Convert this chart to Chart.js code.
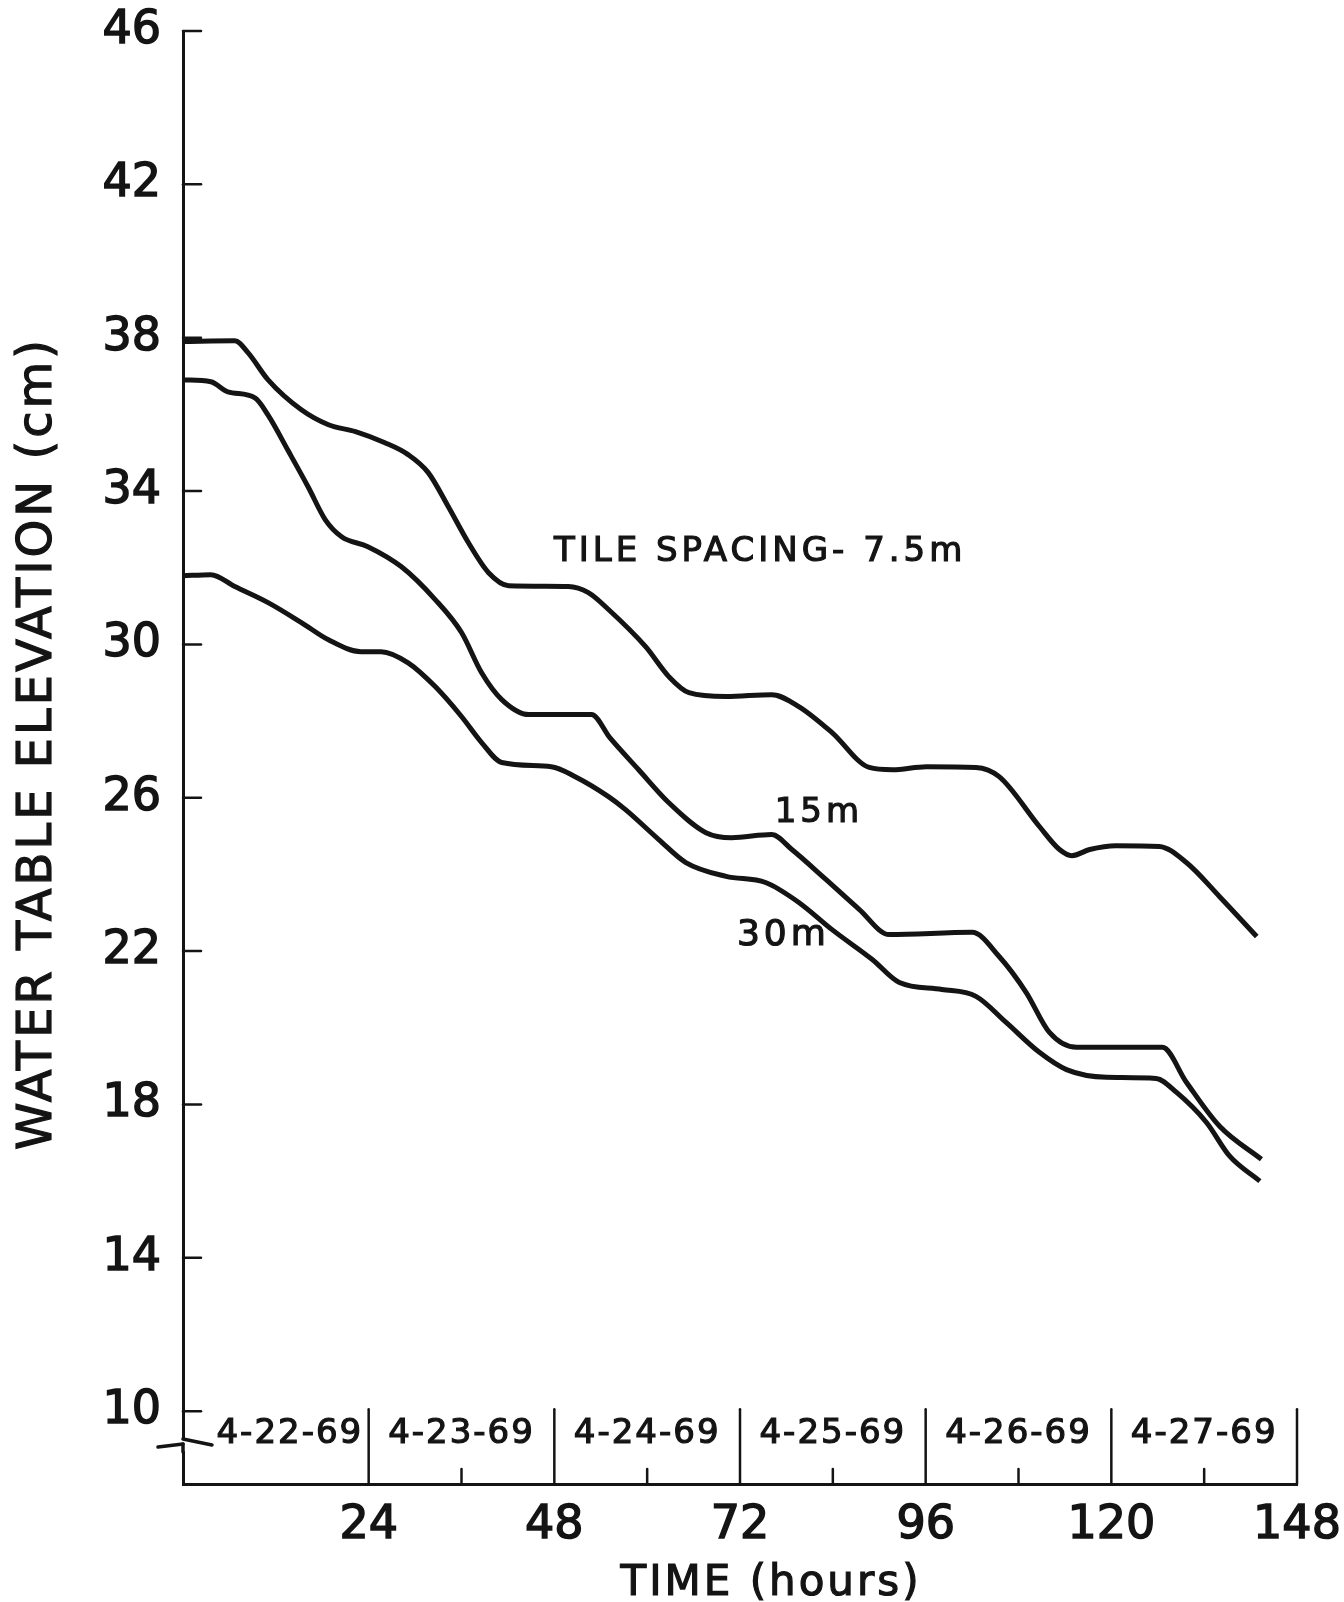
<!DOCTYPE html>
<html>
<head>
<meta charset="utf-8">
<title>Water table elevation vs time</title>
<script src="https://cdn.jsdelivr.net/npm/chart.js@4.4.1/dist/chart.umd.min.js"></script>
<style>
  html, body { margin: 0; padding: 0; background: #fff; }
  #wrap { width: 1344px; height: 1602px; position: relative; }
</style>
</head>
<body>
<div id="wrap"><canvas id="wt_chart"></canvas></div>
<script>
// hours from start of record / water table elevation (cm)
let hours75 = [0, 6.7, 8.4, 11, 15.3, 18.8, 22.3, 26.1, 29.1, 31.7, 34.3, 36.9, 39.5, 42.1, 49.8, 52.4, 55, 59.8, 62.8, 65.4, 70.2, 76.1, 79.6, 83.9, 88.7, 91.7, 96.1, 102.5, 105.5, 110.7, 113.3, 114.9, 117.2, 120.6, 126.2, 129.7, 134, 138.8];
let level75 = [37.9, 37.92, 37.61, 36.9, 36.12, 35.73, 35.55, 35.26, 34.95, 34.48, 33.59, 32.65, 31.87, 31.53, 31.51, 31.35, 30.91, 29.94, 29.16, 28.74, 28.64, 28.69, 28.38, 27.7, 26.79, 26.73, 26.81, 26.79, 26.55, 25.25, 24.65, 24.49, 24.65, 24.75, 24.73, 24.31, 23.42, 22.38];

let hours15 = [0, 3.6, 5.8, 9.3, 11, 13.6, 16.2, 18.4, 20.5, 23.9, 28.2, 32.6, 36, 38.6, 41.2, 44.7, 52.8, 55.2, 58.9, 62.8, 67.6, 70.9, 76.1, 78.7, 83.1, 87.4, 91.3, 102, 105.5, 109, 112, 115.5, 126.6, 129.7, 134, 139.4];
let level15 = [36.9, 36.85, 36.59, 36.43, 35.98, 35.05, 34.1, 33.25, 32.81, 32.55, 32.03, 31.17, 30.31, 29.26, 28.56, 28.17, 28.17, 27.56, 26.73, 25.87, 25.09, 24.96, 25.04, 24.65, 23.87, 23.09, 22.43, 22.49, 21.86, 20.92, 19.88, 19.49, 19.49, 18.58, 17.43, 16.57];

let hours30 = [0, 3.6, 6.7, 11, 15.3, 18.8, 23, 25.6, 29.1, 32.6, 36, 38.6, 41.2, 47.6, 50.7, 55, 57.2, 61.5, 65, 70.2, 75.3, 79.6, 83.9, 89.1, 92.6, 98.1, 102.5, 106.4, 110.7, 114.2, 119.4, 125.8, 128.4, 132.3, 135.3, 139.2];
let level30 = [31.79, 31.82, 31.51, 31.09, 30.57, 30.12, 29.81, 29.81, 29.52, 28.9, 28.12, 27.44, 26.92, 26.81, 26.55, 26.03, 25.69, 24.91, 24.31, 23.95, 23.79, 23.27, 22.56, 21.78, 21.18, 21.0, 20.82, 20.14, 19.36, 18.91, 18.71, 18.68, 18.32, 17.53, 16.65, 16.0];

let yTickValues = [10, 14, 18, 22, 26, 30, 34, 38, 42, 46];
let xTickValues = [24, 48, 72, 96, 120, 144];
let xTickLabels = ['24', '48', '72', '96', '120', '148'];   // last one is printed 148 on the original
let minorTickHours = [36, 60, 84, 108, 132];
let dayLabels = ['4-22-69', '4-23-69', '4-24-69', '4-25-69', '4-26-69', '4-27-69'];

let curveLabels = [
  {text: 'TILE SPACING- 7.5m', h: 74.6, v: 32.4, size: 34},
  {text: '15m', h: 82.2, v: 25.6, size: 34},
  {text: '30m', h: 77.6, v: 22.4, size: 36}
];

const ink = '#141414';
const face = '"DejaVu Sans", "Liberation Sans", sans-serif';

function toPoints(hs, vs) {
  return hs.map((h, i) => ({x: h, y: vs[i]}));
}

function line(ctx, x1, y1, x2, y2) {
  ctx.beginPath();
  ctx.moveTo(x1, y1);
  ctx.lineTo(x2, y2);
  ctx.stroke();
}

function inkText(ctx, t, x, y) {
  ctx.fillText(t, x, y);
  ctx.strokeText(t, x, y);
}

// extra ink: inside ticks, day band, axis break, labels
const paperBits = {
  id: 'paperBits',
  afterDraw(chart) {
    const {ctx, chartArea: a, scales: {x, y}} = chart;
    ctx.save();
    ctx.strokeStyle = ink;
    ctx.fillStyle = ink;
    ctx.lineWidth = 2.5;
    ctx.lineCap = 'round';

    yTickValues.forEach(v => {
      let py = y.getPixelForValue(v);
      line(ctx, a.left, py, a.left + 18, py);
    });

    let bandTop = y.getPixelForValue(10) - 2;
    xTickValues.forEach(h => {
      let px = x.getPixelForValue(h);
      line(ctx, px, a.bottom, px, bandTop);
    });
    minorTickHours.forEach(h => {
      let px = x.getPixelForValue(h);
      line(ctx, px, a.bottom, px, a.bottom - 15);
    });

    // axis break
    ctx.fillStyle = '#fff';
    ctx.fillRect(a.left - 3, a.bottom - 44, 6, 11);
    ctx.fillStyle = ink;
    ctx.lineWidth = 3.5;
    line(ctx, a.left - 25, a.bottom - 37, a.left, a.bottom - 40);
    line(ctx, a.left, a.bottom - 40, a.left, a.bottom - 32);
    line(ctx, a.left, a.bottom - 45, a.left + 29, a.bottom - 39);

    ctx.lineWidth = 1.2;
    ctx.lineCap = 'butt';
    ctx.font = '34px ' + face;
    ctx.letterSpacing = '2px';
    ctx.textAlign = 'center';
    ctx.textBaseline = 'middle';
    dayLabels.forEach((t, i) => {
      let px = x.getPixelForValue(i * 24 + 12);
      if (i === 0) px += 14;
      inkText(ctx, t, px, a.bottom - 50);
    });

    // curve labels
    ctx.letterSpacing = '4px';
    curveLabels.forEach(c => {
      ctx.font = c.size + 'px ' + face;
      inkText(ctx, c.text, x.getPixelForValue(c.h), y.getPixelForValue(c.v));
    });

    // axis titles
    ctx.letterSpacing = '3px';
    ctx.font = '42px ' + face;
    inkText(ctx, 'TIME (hours)', (a.left + a.right) / 2 + 31, 1584);

    ctx.save();
    ctx.translate(39, (a.top + a.bottom) / 2 - 14);
    ctx.rotate(-Math.PI / 2);
    ctx.font = '48px ' + face;
    ctx.letterSpacing = '3px';
    inkText(ctx, 'WATER TABLE ELEVATION (cm)', 0, 0);
    ctx.restore();

    ctx.restore();
  }
};

function series(hs, vs, name) {
  return {
    label: name,
    data: toPoints(hs, vs),
    borderColor: ink,
    borderWidth: 5,
    pointRadius: 0,
    fill: false,
    cubicInterpolationMode: 'monotone'
  };
}

let ctx = document.getElementById('wt_chart');

new Chart(ctx, {
  type: 'line',
  data: {
    datasets: [
      series(hours75, level75, '7.5 m'),
      series(hours15, level15, '15 m'),
      series(hours30, level30, '30 m')
    ]
  },
  options: {
    responsive: true,
    maintainAspectRatio: false,
    animation: false,
    layout: { padding: { top: 31, right: 47, bottom: 0, left: 0 } },
    plugins: { legend: { display: false }, tooltip: { enabled: false } },
    scales: {
      x: {
        type: 'linear',
        min: 0,
        max: 144,
        grid: { display: false, drawTicks: false },
        border: { display: true, color: ink, width: 3 },
        afterBuildTicks: s => { s.ticks = xTickValues.map(v => ({value: v})); },
        afterFit: s => { s.height = 118; s.paddingLeft = 0; s.paddingRight = 0; },
        ticks: {
          autoSkip: false,
          maxRotation: 0,
          padding: 14,
          color: ink,
          textStrokeColor: ink,
          textStrokeWidth: 1.5,
          font: { family: face, size: 46 },
          callback: v => xTickLabels[xTickValues.indexOf(v)]
        }
      },
      y: {
        type: 'linear',
        min: 8.1,
        max: 46,
        grid: { display: false, drawTicks: false },
        border: { display: true, color: ink, width: 3 },
        afterBuildTicks: s => { s.ticks = yTickValues.map(v => ({value: v})); },
        afterFit: s => { s.width = 183; s.paddingTop = 0; s.paddingBottom = 0; },
        ticks: {
          autoSkip: false,
          padding: 22,
          color: ink,
          textStrokeColor: ink,
          textStrokeWidth: 1.5,
          font: { family: face, size: 46 },
          callback: v => String(v)
        }
      }
    }
  },
  plugins: [paperBits]
});
</script>
</body>
</html>
